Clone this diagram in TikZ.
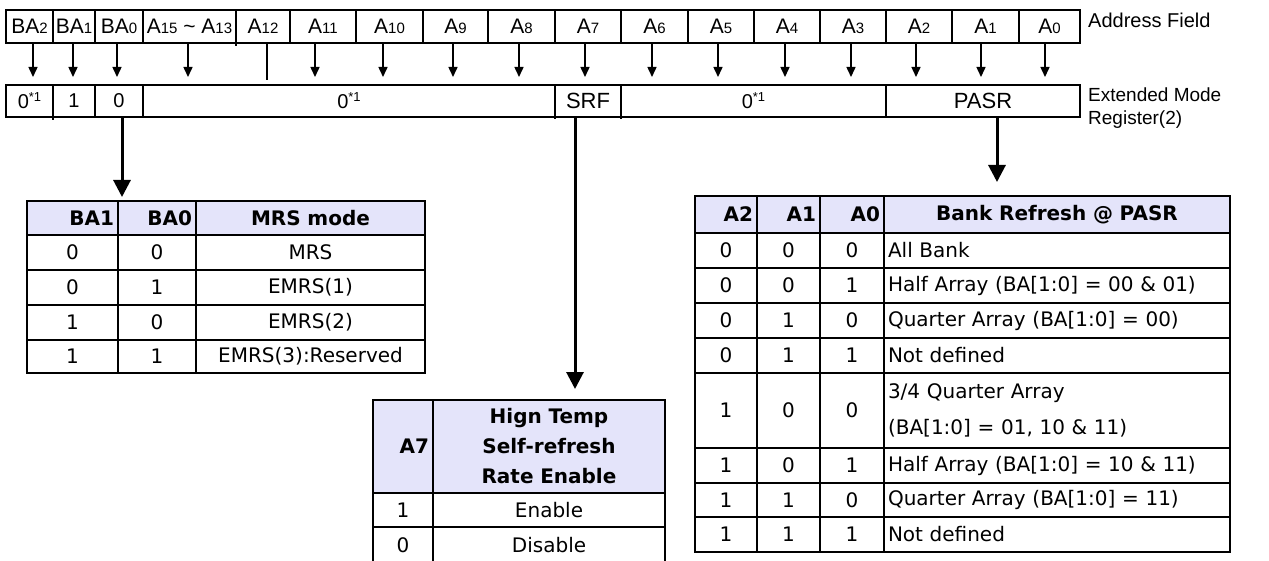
\documentclass[tikz,border=0pt]{standalone}
\usepackage{fontspec}
\setmainfont{Liberation Sans}
\newfontfamily\tabfont{DejaVu Sans}
\newfontfamily\tabwide{DejaVu Sans}[WordSpace=1.4]
\usetikzlibrary{arrows.meta}
\definecolor{hdrfill}{RGB}{228,228,250}
\newcommand\sz[1]{\fontsize{#1}{#1}\selectfont}
\newcommand\ix[1]{{\sz{15}#1}}
\newcommand\zs{0\raisebox{7pt}{\sz{13}*1}}
% register cell: name, x1, x2, y1, y2, style, text
\newcommand\regbox[7]{%
  \pgfmathsetmacro\cellW{#3-#2}\pgfmathsetmacro\cellH{#5-#4}%
  \pgfmathsetmacro\cellX{(#2+#3)/2}\pgfmathsetmacro\cellY{(#4+#5)/2}%
  \node[regcell,#6,minimum width=\cellW pt,minimum height=\cellH pt] (#1) at (\cellX,\cellY) {#7};}
% table cell: name, x1, x2, y1, y2, style, text
\newcommand\tabbox[7]{%
  \pgfmathsetmacro\cellW{#3-#2-8}\pgfmathsetmacro\cellH{#5-#4}%
  \pgfmathsetmacro\cellX{(#2+#3)/2}\pgfmathsetmacro\cellY{(#4+#5)/2}%
  \node[tcell,#6,text width=\cellW pt,minimum height=\cellH pt] (#1) at (\cellX,\cellY) {#7};}
\begin{document}
\begin{tikzpicture}[x=1pt,y=-1pt,
  regcell/.style={draw,line width=1.3pt,inner sep=0pt,outer sep=0pt,font=\sz{21}},
  tcell/.style={draw,line width=2pt,inner xsep=4pt,inner ysep=0pt,outer sep=0pt,
    font=\tabfont\sz{20},align=center},
  hdr/.style={fill=hdrfill,font=\tabfont\bfseries\sz{20}},
  desc/.style={align=left,font=\tabwide\sz{20}},
  regline/.style={line width=1.3pt},
  fieldarrow/.style={line width=1.5pt,-{Triangle[width=9pt,length=10pt]}},
  bigarrow/.style={line width=3pt,-{Triangle[width=17pt,length=17pt]}}]
\useasboundingbox (0,0) rectangle (1269,561);

% address field
\regbox{ba2}{6}{53}{10}{43}{}{BA\ix{2}}
\regbox{ba1}{53}{95}{10}{43}{}{BA\ix{1}}
\regbox{ba0}{95}{143}{10}{43}{}{BA\ix{0}}
\regbox{a15}{143}{236}{10}{43}{}{A\ix{15} \textasciitilde{} A\ix{13}}
\regbox{a12}{236}{290}{10}{43}{}{A\ix{12}}
\regbox{a11}{290}{356}{10}{43}{}{A\ix{11}}
\regbox{a10}{356}{423}{10}{43}{}{A\ix{10}}
\regbox{a9}{423}{488}{10}{43}{}{A\ix{9}}
\regbox{a8}{488}{555}{10}{43}{}{A\ix{8}}
\regbox{a7}{555}{621}{10}{43}{}{A\ix{7}}
\regbox{a6}{621}{688}{10}{43}{}{A\ix{6}}
\regbox{a5}{688}{754}{10}{43}{}{A\ix{5}}
\regbox{a4}{754}{820}{10}{43}{}{A\ix{4}}
\regbox{a3}{820}{886}{10}{43}{}{A\ix{3}}
\regbox{a2}{886}{952}{10}{43}{}{A\ix{2}}
\regbox{a1}{952}{1019}{10}{43}{}{A\ix{1}}
\regbox{a0}{1019}{1080}{10}{43}{}{A\ix{0}}
\node[font=\sz{20},anchor=base west,inner sep=0pt] (addr) at (1088,28) {Address Field};

% extended mode register
\regbox{e0}{6}{53}{85}{117}{font=\sz{20}}{\zs}
\regbox{e1}{53}{95}{85}{117}{font=\sz{20}}{1}
\regbox{e2}{95}{143}{85}{117}{font=\sz{20}}{0}
\regbox{e3}{143}{555}{85}{117}{font=\sz{20}}{\zs}
\regbox{srf}{555}{621}{85}{117}{font=\sz{22}}{SRF}
\regbox{e5}{621}{886}{85}{117}{font=\sz{20}}{\zs}
\regbox{pasr}{886}{1080}{85}{117}{font=\sz{22}}{PASR}
\node[font=\fontsize{19}{23}\selectfont,anchor=west,align=left,inner sep=0pt] (emr) at (1088,108) {Extended Mode\\Register(2)};

% small overhangs of the cell borders
\draw[regline] (a15.south east) -- ++(0,3);
\draw[regline] (e0.south east) -- ++(0,3);
\draw[regline] (srf.south west) -- ++(0,2);
\draw[regline] (srf.south east) -- ++(0,2);

% bit mapping arrows
\foreach \n/\dx in {ba2/3.5,ba1/-1,ba0/-2,a15/-1.5,a11/-8,a10/-6.5,a9/-2.5,a8/-2.5,
  a7/-3,a6/-2.5,a5/-3,a4/-2,a3/-2,a2/-3,a1/-4.5,a0/-4.5}
  \draw[fieldarrow] ([xshift=\dx pt]\n.south) -- ++(0,34);
\draw[regline] ([xshift=4pt]a12.south) -- ++(0,37);

% MRS mode table
\tabbox{t1a}{27}{118}{201}{235}{hdr,align=right}{BA1}
\tabbox{t1b}{118}{196}{201}{235}{hdr,align=right}{BA0}
\tabbox{t1c}{196}{425}{201}{235}{hdr}{MRS mode}
\tabbox{t1r1a}{27}{118}{235}{270}{}{0}
\tabbox{t1r1b}{118}{196}{235}{270}{}{0}
\tabbox{t1r1c}{196}{425}{235}{270}{}{MRS}
\tabbox{t1r2a}{27}{118}{270}{305}{}{0}
\tabbox{t1r2b}{118}{196}{270}{305}{}{1}
\tabbox{t1r2c}{196}{425}{270}{305}{}{EMRS(1)}
\tabbox{t1r3a}{27}{118}{305}{340}{}{1}
\tabbox{t1r3b}{118}{196}{305}{340}{}{0}
\tabbox{t1r3c}{196}{425}{305}{340}{}{EMRS(2)}
\tabbox{t1r4a}{27}{118}{340}{373}{}{1}
\tabbox{t1r4b}{118}{196}{340}{373}{}{1}
\tabbox{t1r4c}{196}{425}{340}{373}{}{EMRS(3):Reserved}

% self-refresh rate table
\tabbox{t2a}{373}{433}{400}{493}{hdr,align=right}{A7}
\tabbox{t2b}{433}{665}{400}{493}{hdr,font=\tabfont\bfseries\fontsize{20}{30}\selectfont}{Hign Temp\\Self-refresh\\Rate Enable}
\tabbox{t2r1a}{373}{433}{493}{527}{}{1}
\tabbox{t2r1b}{433}{665}{493}{527}{}{Enable}
\tabbox{t2r2a}{373}{433}{527}{563}{}{0}
\tabbox{t2r2b}{433}{665}{527}{563}{}{Disable}

% PASR table
\tabbox{t3a}{695}{757}{196}{233}{hdr,align=right}{A2}
\tabbox{t3b}{757}{820}{196}{233}{hdr,align=right}{A1}
\tabbox{t3c}{820}{884}{196}{233}{hdr,align=right}{A0}
\tabbox{t3d}{884}{1230}{196}{233}{hdr}{Bank Refresh @ PASR}
\foreach \i/\ya/\yb/\va/\vb/\vc/\txt in {
  1/233/268/0/0/0/All Bank,
  2/268/303/0/0/1/Half Array (BA[1:0] = 00 \& 01),
  3/303/338/0/1/0/Quarter Array (BA[1:0] = 00),
  4/338/373/0/1/1/Not defined,
  6/448/483/1/0/1/Half Array (BA[1:0] = 10 \& 11),
  7/483/517/1/1/0/Quarter Array (BA[1:0] = 11),
  8/517/552/1/1/1/Not defined}{
  \tabbox{t3r\i a}{695}{757}{\ya}{\yb}{}{\va}
  \tabbox{t3r\i b}{757}{820}{\ya}{\yb}{}{\vb}
  \tabbox{t3r\i c}{820}{884}{\ya}{\yb}{}{\vc}
  \tabbox{t3r\i d}{884}{1230}{\ya}{\yb}{desc}{\txt}
}
\tabbox{t3r5a}{695}{757}{373}{448}{}{1}
\tabbox{t3r5b}{757}{820}{373}{448}{}{0}
\tabbox{t3r5c}{820}{884}{373}{448}{}{0}
\tabbox{t3r5d}{884}{1230}{373}{448}{desc,font=\tabwide\fontsize{20}{36}\selectfont}{3/4 Quarter Array\\(BA[1:0] = 01, 10 \& 11)}

% field decoding arrows
\draw[bigarrow] ([xshift=3pt]e2.south) -- ++(0,80);
\draw[bigarrow] ([xshift=-13pt]srf.south) -- ++(0,272);
\draw[bigarrow] ([xshift=14pt]pasr.south) -- ++(0,65);
\end{tikzpicture}
\end{document}
